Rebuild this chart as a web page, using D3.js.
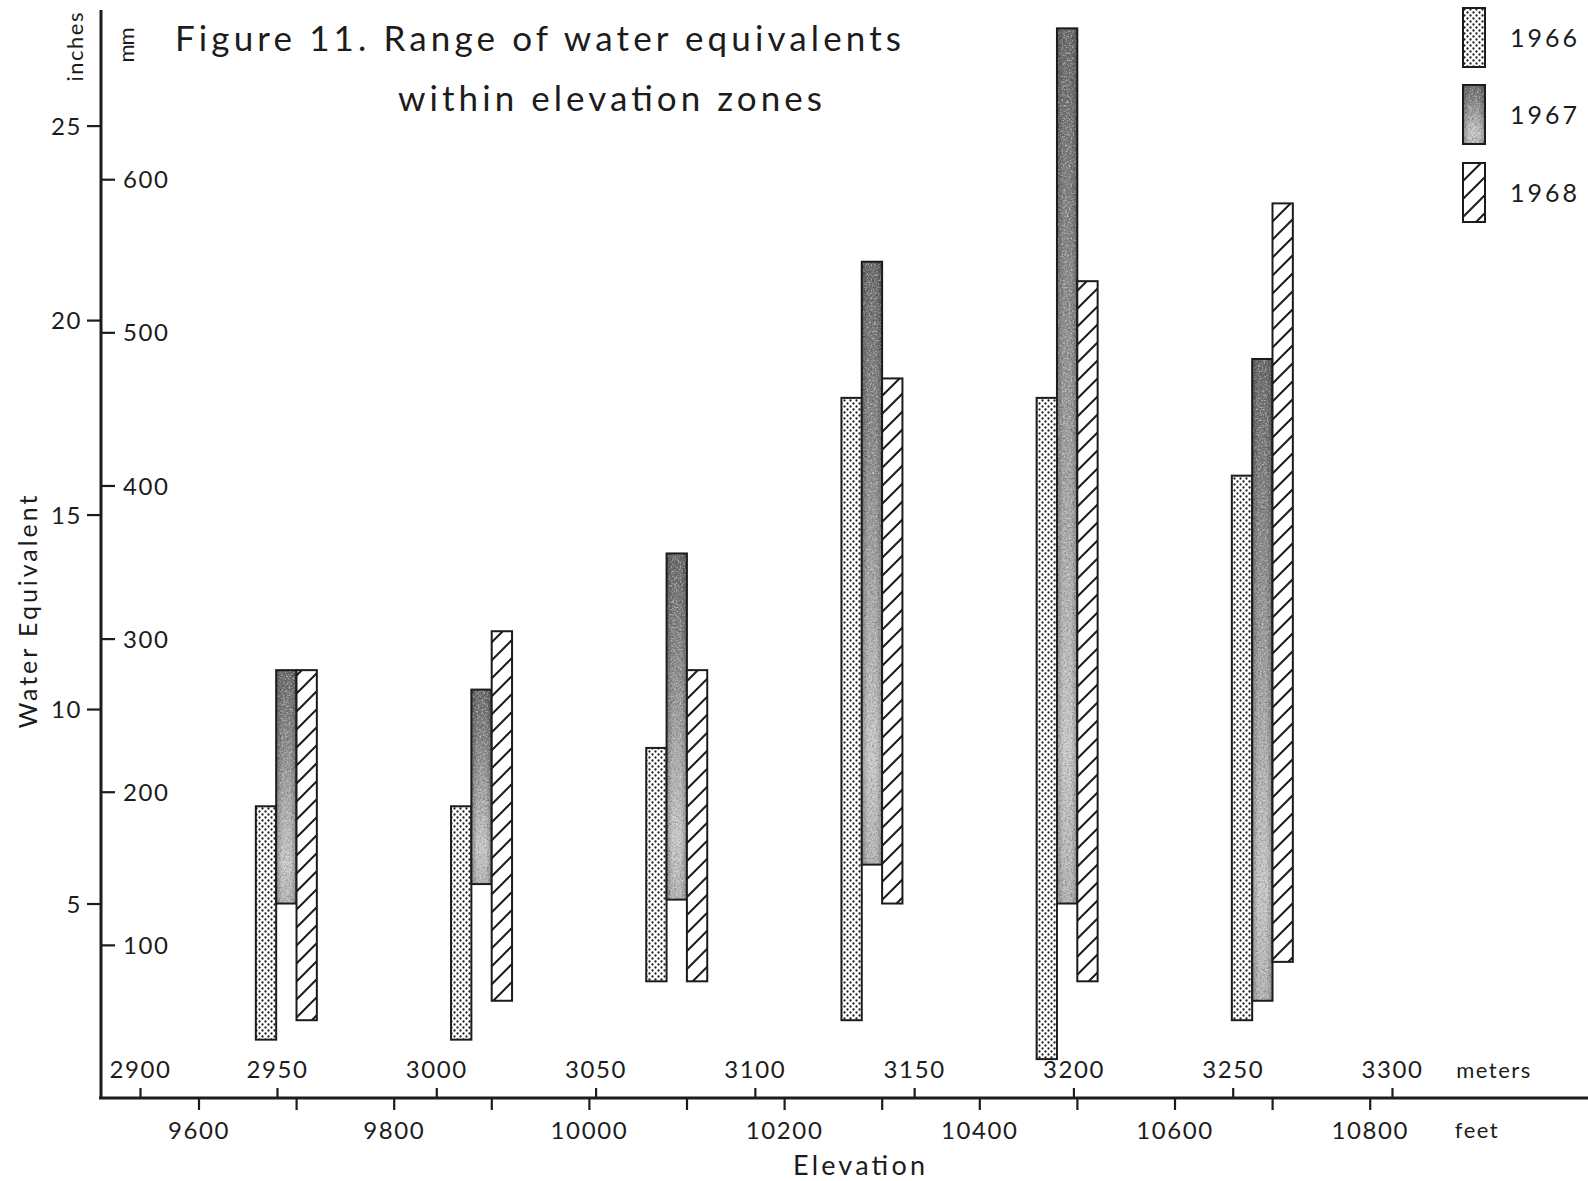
<!DOCTYPE html>
<html>
<head>
<meta charset="utf-8">
<script src="https://cdn.jsdelivr.net/npm/d3@7/dist/d3.min.js"></script>
<style>
  html, body { margin: 0; padding: 0; background: #ffffff; }
  svg { display: block; }
  text { font-family: Lato, "Noto Sans", sans-serif; fill: #1c1c1c; }
</style>
</head>
<body>
<svg id="chart" width="1588" height="1181"></svg>
<script>
// ---------------- data ----------------
const years = ["1966", "1967", "1968"];
const zoneCenterFeet = [9690, 9890, 10090, 10290, 10490, 10690];
const low1966  = [1.5, 1.5, 3.0, 2.0, 1.0, 2.0];
const high1966 = [7.5, 7.5, 9.0, 18.0, 18.0, 16.0];
const low1967  = [5.0, 5.5, 5.1, 6.0, 5.0, 2.5];
const high1967 = [11.0, 10.5, 14.0, 21.5, 27.5, 19.0];
const low1968  = [2.0, 2.5, 3.0, 5.0, 3.0, 3.5];
const high1968 = [11.0, 12.0, 11.0, 18.5, 21.0, 23.0];
const inchTicks = [5, 10, 15, 20, 25];
const mmTicks = [100, 200, 300, 400, 500, 600];
const meterTicks = [2900, 2950, 3000, 3050, 3100, 3150, 3200, 3250, 3300];
const feetTicks = [9600, 9700, 9800, 9900, 10000, 10100, 10200, 10300, 10400, 10500, 10600, 10700, 10800];
const feetLabelled = [9600, 9800, 10000, 10200, 10400, 10600, 10800];

const lows = { "1966": low1966, "1967": low1967, "1968": low1968 };
const highs = { "1966": high1966, "1967": high1967, "1968": high1968 };
const bars = [];
zoneCenterFeet.forEach((c, i) => years.forEach(y => bars.push({ zone: c, year: y, lo: lows[y][i], hi: highs[y][i] })));

// ---------------- setup ----------------
const svg = d3.select("#chart");
const defs = svg.append("defs");

// stipple for 1966
const dots = defs.append("pattern").attr("id", "dots").attr("patternUnits", "userSpaceOnUse")
  .attr("width", 6).attr("height", 6);
dots.append("rect").attr("width", 6).attr("height", 6).attr("fill", "#fff");
dots.append("circle").attr("cx", 1.5).attr("cy", 1.5).attr("r", 1.15).attr("fill", "#1e1e1e");
dots.append("circle").attr("cx", 4.5).attr("cy", 4.5).attr("r", 1.15).attr("fill", "#1e1e1e");

// hatch for 1968
const P = 18;
const hatch = defs.append("pattern").attr("id", "hatch").attr("patternUnits", "userSpaceOnUse")
  .attr("width", P).attr("height", P);
hatch.append("rect").attr("width", P).attr("height", P).attr("fill", "#fff");
hatch.append("path")
  .attr("d", `M0,${P} L${P},0 M${-P/2},${P/2} L${P/2},${-P/2} M${P/2},${P*1.5} L${P*1.5},${P/2}`)
  .attr("stroke", "#1c1c1c").attr("stroke-width", 2);

// gray gradient for 1967
const grad = defs.append("linearGradient").attr("id", "gray").attr("x1", 0).attr("y1", 0).attr("x2", 0).attr("y2", 1);
[["0%", "#6e6e6e"], ["40%", "#9a9a9a"], ["82%", "#cdcdcd"], ["100%", "#b8b8b8"]]
  .forEach(([o, c]) => grad.append("stop").attr("offset", o).attr("stop-color", c));
const edge = defs.append("linearGradient").attr("id", "edge").attr("x1", 0).attr("y1", 0).attr("x2", 1).attr("y2", 0);
[["0%", 0.25], ["30%", 0.0], ["70%", 0.0], ["100%", 0.25]]
  .forEach(([o, a]) => edge.append("stop").attr("offset", o).attr("stop-color", "#000").attr("stop-opacity", a));

const grain = defs.append("filter").attr("id", "grain").attr("x", 0).attr("y", 0).attr("width", 1).attr("height", 1);
grain.append("feTurbulence").attr("type", "fractalNoise").attr("baseFrequency", 0.55).attr("numOctaves", 2).attr("seed", 4).attr("result", "noise");
grain.append("feColorMatrix").attr("in", "noise").attr("type", "matrix")
  .attr("values", "0 0 0 0 0  0 0 0 0 0  0 0 0 0 0  1.3 0 0 0 -0.55").attr("result", "dark");
grain.append("feComposite").attr("in", "dark").attr("in2", "SourceAlpha").attr("operator", "in").attr("result", "darkIn");
grain.append("feColorMatrix").attr("in", "noise").attr("type", "matrix")
  .attr("values", "0 0 0 0 1  0 0 0 0 1  0 0 0 0 1  0 -1.3 0 0 0.62").attr("result", "light");
grain.append("feComposite").attr("in", "light").attr("in2", "SourceAlpha").attr("operator", "in").attr("result", "lightIn");
const merge = grain.append("feMerge");
merge.append("feMergeNode").attr("in", "SourceGraphic");
merge.append("feMergeNode").attr("in", "darkIn");
merge.append("feMergeNode").attr("in", "lightIn");

// ---------------- scales ----------------
const axisX = 101, axisY = 1098;
const yIn = d3.scaleLinear().domain([0, 25]).range([axisY, 125.6]);
const yMm = d3.scaleLinear().domain([0, 635]).range([axisY, 125.6]);
const xFt = d3.scaleLinear().domain([9600, 10800]).range([198.5, 1369.7]);
const xM = d3.scaleLinear().domain([2900, 2950, 3300]).range([140, 277, 1392]);
const band = d3.scaleBand().domain(years).range([-30.5, 30.5]).padding(0);

const fills = { "1966": "url(#dots)", "1967": "url(#gray)", "1968": "url(#hatch)" };

// ---------------- axes ----------------
function styleAxis(g, size) {
  g.select(".domain").remove();
  g.selectAll("line").attr("stroke", "#1c1c1c").attr("stroke-width", 2.2);
  g.selectAll("text").attr("font-size", size).attr("fill", "#1c1c1c")
    .attr("font-family", "Lato, 'Noto Sans', sans-serif").style("letter-spacing", "1.6px");
}

const gIn = svg.append("g").attr("transform", `translate(${axisX},0)`)
  .call(d3.axisLeft(yIn).tickValues(inchTicks).tickSize(14).tickPadding(5));
styleAxis(gIn, 24);
gIn.selectAll("text").attr("dy", "0.36em");

const gMm = svg.append("g").attr("transform", `translate(${axisX},0)`)
  .call(d3.axisRight(yMm).tickValues(mmTicks).tickSize(14).tickPadding(8));
styleAxis(gMm, 24);
gMm.selectAll("text").attr("dy", "0.36em");

const gM = svg.append("g").attr("transform", `translate(0,${axisY})`)
  .call(d3.axisTop(xM).tickValues(meterTicks).tickSize(10).tickPadding(10).tickFormat(d3.format("d")));
styleAxis(gM, 24);

const gF = svg.append("g").attr("transform", `translate(0,${axisY})`)
  .call(d3.axisBottom(xFt).tickValues(feetTicks).tickSize(12).tickPadding(12)
    .tickFormat(d => feetLabelled.includes(d) ? String(d) : ""));
styleAxis(gF, 24);

// axis lines
svg.append("line").attr("x1", axisX).attr("x2", axisX).attr("y1", 10).attr("y2", axisY + 1)
  .attr("stroke", "#1c1c1c").attr("stroke-width", 3);
svg.append("line").attr("x1", axisX - 2).attr("x2", 1588).attr("y1", axisY).attr("y2", axisY)
  .attr("stroke", "#1c1c1c").attr("stroke-width", 3.2);

// ---------------- bars ----------------
const gb = svg.append("g");
const barG = gb.selectAll("g.bar").data(bars).join("g").attr("class", "bar");
barG.append("rect")
  .attr("x", d => xFt(d.zone) + band(d.year))
  .attr("y", d => yIn(d.hi))
  .attr("width", band.bandwidth())
  .attr("height", d => yIn(d.lo) - yIn(d.hi))
  .attr("fill", d => fills[d.year])
  .attr("filter", d => d.year === "1967" ? "url(#grain)" : null);
barG.filter(d => d.year === "1967").append("rect")
  .attr("x", d => xFt(d.zone) + band(d.year))
  .attr("y", d => yIn(d.hi))
  .attr("width", band.bandwidth())
  .attr("height", d => yIn(d.lo) - yIn(d.hi))
  .attr("fill", "url(#edge)");
barG.append("rect")
  .attr("x", d => xFt(d.zone) + band(d.year))
  .attr("y", d => yIn(d.hi))
  .attr("width", band.bandwidth())
  .attr("height", d => yIn(d.lo) - yIn(d.hi))
  .attr("fill", "none").attr("stroke", "#1c1c1c").attr("stroke-width", 2);

// ---------------- legend ----------------
const legTop = [8, 85, 163];
const leg = svg.append("g").selectAll("g").data(years).join("g")
  .attr("transform", (d, i) => `translate(1463,${legTop[i]})`);
leg.append("rect").attr("width", 22).attr("height", 59)
  .attr("fill", d => fills[d]).attr("filter", d => d === "1967" ? "url(#grain)" : null);
leg.filter(d => d === "1967").append("rect").attr("width", 22).attr("height", 59).attr("fill", "url(#edge)");
leg.append("rect").attr("width", 22).attr("height", 59).attr("fill", "none")
  .attr("stroke", "#1c1c1c").attr("stroke-width", 2);
leg.append("text").attr("x", 47).attr("y", 30).attr("dy", "0.36em")
  .attr("font-size", 25).style("letter-spacing", "3px").text(d => d);

// ---------------- titles & labels ----------------
svg.append("text").attr("x", 175).attr("y", 51).attr("font-size", 35)
  .attr("textLength", 726).attr("lengthAdjust", "spacing")
  .text("Figure 11. Range of water equivalents");
svg.append("text").attr("x", 398).attr("y", 111).attr("font-size", 35)
  .attr("textLength", 424).attr("lengthAdjust", "spacing")
  .text("within elevation zones");

svg.append("text").attr("transform", "translate(28,612) rotate(-90)")
  .attr("text-anchor", "middle").attr("dy", "0.36em").attr("font-size", 25)
  .attr("textLength", 233).attr("lengthAdjust", "spacing").text("Water Equivalent");
svg.append("text").attr("transform", "translate(75,47) rotate(-90)")
  .attr("text-anchor", "middle").attr("dy", "0.36em").attr("font-size", 22)
  .attr("textLength", 69).attr("lengthAdjust", "spacing").text("inches");
svg.append("text").attr("transform", "translate(127,45) rotate(-90)")
  .attr("text-anchor", "middle").attr("dy", "0.3em").attr("font-size", 22)
  .attr("textLength", 35).attr("lengthAdjust", "spacing").text("mm");

svg.append("text").attr("x", 1494).attr("y", 1070).attr("dy", "0.36em").attr("text-anchor", "middle")
  .attr("font-size", 22).style("letter-spacing", "1.5px").text("meters");
svg.append("text").attr("x", 1477).attr("y", 1130).attr("dy", "0.36em").attr("text-anchor", "middle")
  .attr("font-size", 22).style("letter-spacing", "1.5px").text("feet");
svg.append("text").attr("x", 859).attr("y", 1165).attr("dy", "0.36em").attr("text-anchor", "middle")
  .attr("font-size", 27).attr("textLength", 132).attr("lengthAdjust", "spacing").text("Elevation");
</script>
</body>
</html>
